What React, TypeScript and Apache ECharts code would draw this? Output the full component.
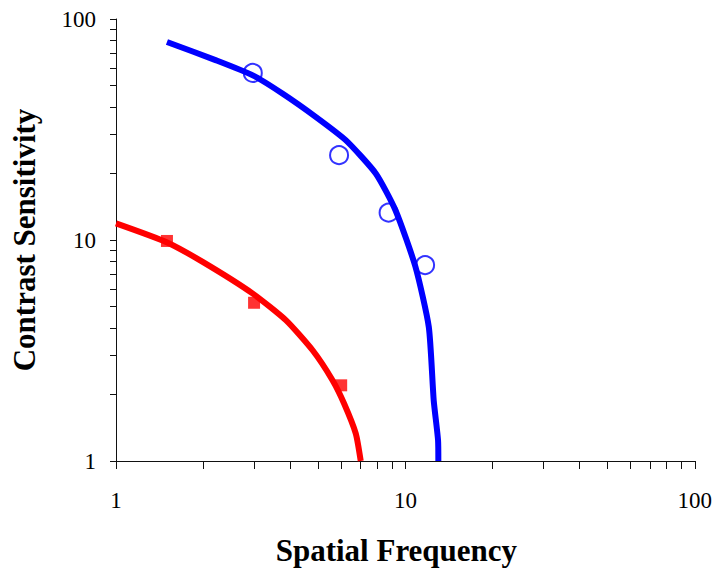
import React, { useEffect, useRef } from "react";
import * as echarts from "echarts";

const blueCurve: [number, number][] = [
  [1.5, 78.7], [2.22, 65], [2.97, 55.6], [3.77, 45.9], [4.91, 36], [6.22, 28.3],
  [7.9, 20], [9.25, 13.6], [10.84, 7.55], [12.05, 4.04], [12.53, 1.88], [12.97, 1.24], [13.0, 1.0],
];
const bluePoints: [number, number][] = [
  [2.97, 57], [5.9, 24.2], [8.75, 13.3], [11.7, 7.7],
];
const redCurve: [number, number][] = [
  [1, 11.9], [1.49, 9.8], [2.0, 7.94], [2.97, 5.72], [3.87, 4.33], [4.78, 3.17],
  [5.6, 2.32], [6.14, 1.82], [6.74, 1.33], [7.01, 1.0],
];
const redPoints: [number, number][] = [
  [1.5, 9.9], [3, 5.2], [6, 2.2],
];

const xTitle = "Spatial Frequency";
const yTitle = "Contrast Sensitivity";

export default function App() {
  const ref = useRef<HTMLDivElement>(null);
  useEffect(() => {
    if (!ref.current) return;
    const chart = echarts.init(ref.current, undefined, { renderer: "svg" });
    const font = "'Liberation Serif', 'Times New Roman', serif";
    const axisCommon = {
      type: "log" as const,
      logBase: 10,
      min: 1,
      max: 100,
      splitLine: { show: false },
      axisLine: { show: true, lineStyle: { color: "#111", width: 1 } },
      minorTick: { show: true, splitNumber: 9, lineStyle: { color: "#111", width: 1 } },
      axisLabel: { color: "#000", fontFamily: font, fontSize: 23 },
      nameLocation: "middle" as const,
    };
    const nameStyle = { color: "#000", fontFamily: font, fontSize: 31, fontWeight: "bold" as const };
    chart.setOption({
      animation: false,
      backgroundColor: "#fff",
      grid: { left: 116, right: 18, top: 19, bottom: 112, containLabel: false },
      xAxis: {
        ...axisCommon,
        name: xTitle,
        nameGap: 74,
        nameTextStyle: { ...nameStyle, padding: [0, 18, 0, 0] },
        axisTick: { show: true, length: 8, lineStyle: { color: "#111", width: 1 } },
        minorTick: { ...axisCommon.minorTick, length: 8 },
        axisLabel: { ...axisCommon.axisLabel, margin: 28 },
      },
      yAxis: {
        ...axisCommon,
        name: yTitle,
        nameGap: 76,
        nameTextStyle: nameStyle,
        axisTick: { show: true, length: 6, lineStyle: { color: "#111", width: 1 } },
        minorTick: { ...axisCommon.minorTick, length: 6 },
        axisLabel: { ...axisCommon.axisLabel, margin: 20 },
      },
      series: [
        {
          type: "line",
          data: blueCurve,
          showSymbol: false,
          smooth: 0.2,
          lineStyle: { color: "#0000ff", width: 6 },
          z: 2,
        },
        {
          type: "scatter",
          data: bluePoints,
          symbol: "circle",
          symbolSize: 18,
          itemStyle: { color: "rgba(0,0,0,0)", borderColor: "#0000ff", borderWidth: 2 },
          z: 3,
        },
        {
          type: "line",
          data: redCurve,
          showSymbol: false,
          smooth: 0.2,
          lineStyle: { color: "#ff0000", width: 6 },
          z: 2,
        },
        {
          type: "scatter",
          data: redPoints,
          symbol: "rect",
          symbolSize: 12,
          itemStyle: { color: "#ff0000" },
          z: 3,
        },
      ],
    });
    return () => chart.dispose();
  }, []);
  return (
    <div
      ref={ref}
      style={{ position: "fixed", left: 0, top: 0, width: 715, height: 573 }}
    />
  );
}
